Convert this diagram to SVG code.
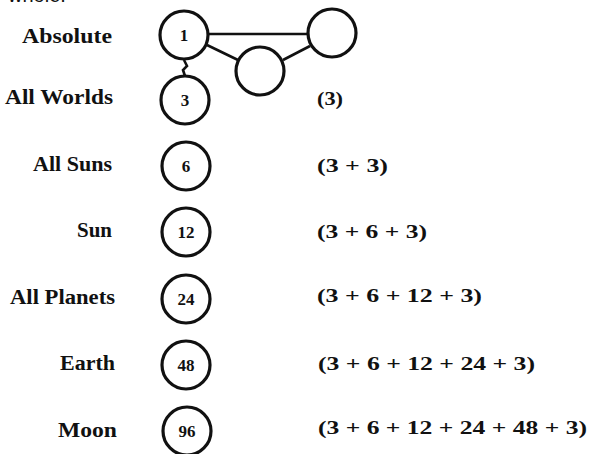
<svg xmlns="http://www.w3.org/2000/svg" width="590" height="454" viewBox="0 0 590 454">
<style>
.lbl{font-family:"Liberation Serif",serif;font-weight:bold;font-size:20px;fill:#111;text-anchor:end}
.num{font-family:"Liberation Serif",serif;font-weight:bold;font-size:17px;fill:#111;text-anchor:middle}
.frm{font-family:"Liberation Serif",serif;font-weight:bold;font-size:19px;fill:#111}
.c{fill:#fff;stroke:#111;stroke-width:3.2}
.ln{stroke:#111;stroke-width:2.6;fill:none}
</style>
<rect width="590" height="454" fill="#fff"/>
<text x="8" y="2" font-family="Liberation Sans,sans-serif" font-size="20" fill="#111">whole:</text>
<g id="connectors">
<line class="ln" x1="208" y1="34" x2="308" y2="34"/>
<line class="ln" x1="207" y1="45" x2="238" y2="60"/>
<line class="ln" x1="283" y1="60" x2="310" y2="46"/>
<path class="ln" d="M184 60 L187 66 L183 70 L185 76"/>
</g>
<g id="absolute"><text class="lbl" x="112" y="43" textLength="90" lengthAdjust="spacingAndGlyphs">Absolute</text><circle class="c" cx="184" cy="35" r="24"/><text class="num" x="184" y="41">1</text></g>
<g id="node-right"><circle class="c" cx="332" cy="33" r="24"/></g>
<g id="node-middle"><circle class="c" cx="260" cy="71" r="24"/></g>
<g id="all-worlds"><text class="lbl" x="113" y="104" textLength="108" lengthAdjust="spacingAndGlyphs">All Worlds</text><circle class="c" cx="185" cy="100" r="24"/><text class="num" x="185" y="106">3</text><text class="frm" x="317" y="105" textLength="26" lengthAdjust="spacingAndGlyphs">(3)</text></g>
<g id="all-suns"><text class="lbl" x="112" y="171" textLength="79" lengthAdjust="spacingAndGlyphs">All Suns</text><circle class="c" cx="186" cy="166" r="24"/><text class="num" x="186" y="172">6</text><text class="frm" x="317" y="172" textLength="71" lengthAdjust="spacingAndGlyphs">(3 + 3)</text></g>
<g id="sun"><text class="lbl" x="112" y="237" textLength="35" lengthAdjust="spacingAndGlyphs">Sun</text><circle class="c" cx="186" cy="232" r="24"/><text class="num" x="186" y="238">12</text><text class="frm" x="317" y="238" textLength="110" lengthAdjust="spacingAndGlyphs">(3 + 6 + 3)</text></g>
<g id="all-planets"><text class="lbl" x="115" y="304" textLength="105" lengthAdjust="spacingAndGlyphs">All Planets</text><circle class="c" cx="186" cy="299" r="24"/><text class="num" x="186" y="305">24</text><text class="frm" x="317" y="302" textLength="165" lengthAdjust="spacingAndGlyphs">(3 + 6 + 12 + 3)</text></g>
<g id="earth"><text class="lbl" x="115" y="370" textLength="55" lengthAdjust="spacingAndGlyphs">Earth</text><circle class="c" cx="186" cy="365" r="24"/><text class="num" x="186" y="371">48</text><text class="frm" x="318" y="370" textLength="217" lengthAdjust="spacingAndGlyphs">(3 + 6 + 12 + 24 + 3)</text></g>
<g id="moon"><text class="lbl" x="117" y="437" textLength="59" lengthAdjust="spacingAndGlyphs">Moon</text><circle class="c" cx="187" cy="431" r="24"/><text class="num" x="187" y="437">96</text><text class="frm" x="318" y="434" textLength="269" lengthAdjust="spacingAndGlyphs">(3 + 6 + 12 + 24 + 48 + 3)</text></g>
</svg>
